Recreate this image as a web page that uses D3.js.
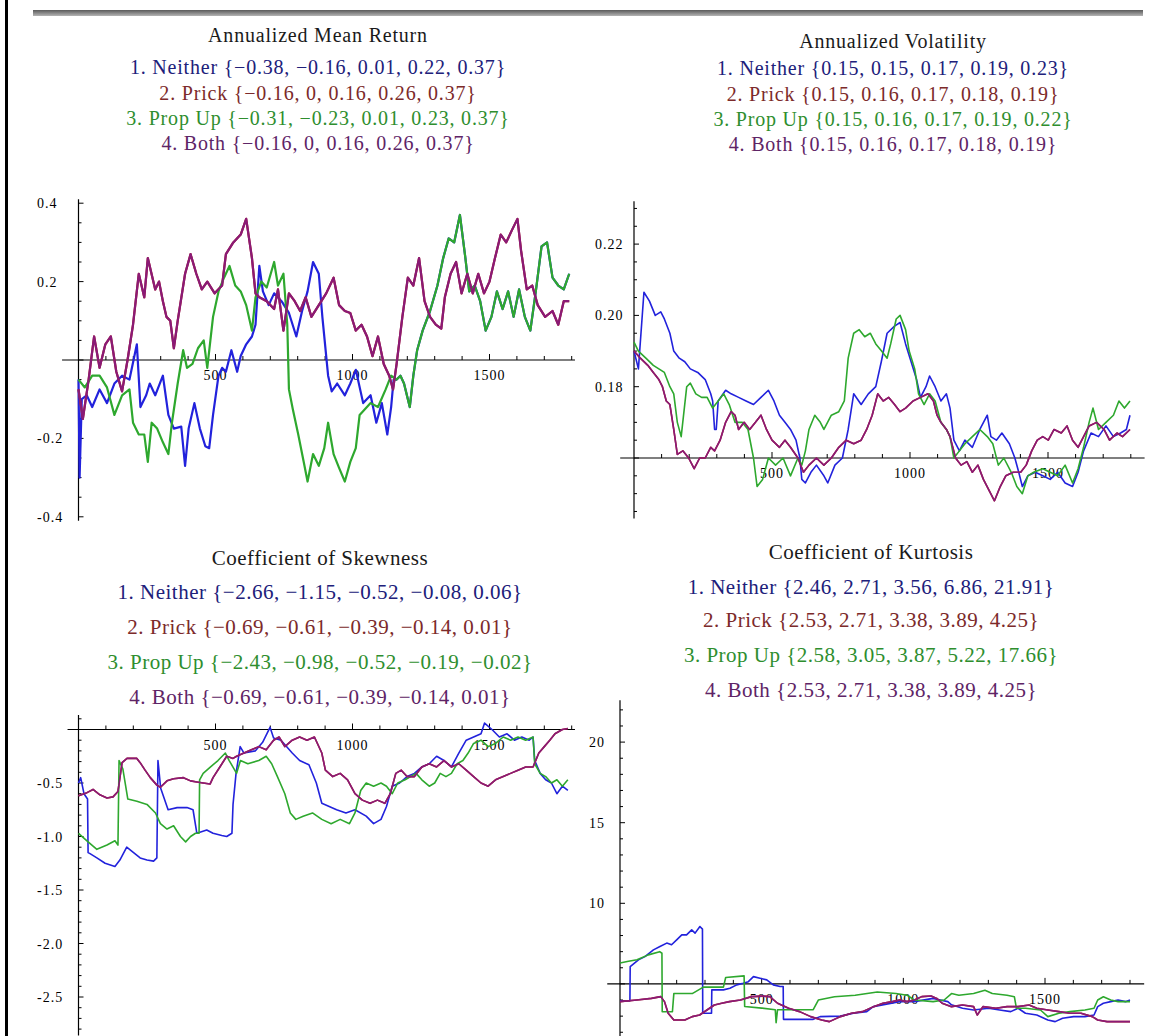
<!DOCTYPE html>
<html>
<head>
<meta charset="utf-8">
<script src="https://cdn.jsdelivr.net/npm/d3@7"></script>
<style>
  body { margin: 0; background: #fff; }
  svg { display: block; }
  text { font-family: "Liberation Serif", "Times New Roman", serif; }
</style>
</head>
<body>
<div id="chart"></div>
<script>
// Strategies and their colours
var strategies = ["Neither", "Prick", "Prop Up", "Both"];
var lineColors = ["#2222dc", "#b02020", "#2ea82e", "#8a1a76"];
var textColors = ["#20207a", "#7c2a2a", "#2e8e2e", "#5e2466"];

// {min, 25%, median, 75%, max} per strategy, as printed above each plot
var meanStats = [[-0.38, -0.16, 0.01, 0.22, 0.37], [-0.16, 0, 0.16, 0.26, 0.37], [-0.31, -0.23, 0.01, 0.23, 0.37], [-0.16, 0, 0.16, 0.26, 0.37]];
var volStats = [[0.15, 0.15, 0.17, 0.19, 0.23], [0.15, 0.16, 0.17, 0.18, 0.19], [0.15, 0.16, 0.17, 0.19, 0.22], [0.15, 0.16, 0.17, 0.18, 0.19]];
var skewStats = [[-2.66, -1.15, -0.52, -0.08, 0.06], [-0.69, -0.61, -0.39, -0.14, 0.01], [-2.43, -0.98, -0.52, -0.19, -0.02], [-0.69, -0.61, -0.39, -0.14, 0.01]];
var kurtStats = [[2.46, 2.71, 3.56, 6.86, 21.91], [2.53, 2.71, 3.38, 3.89, 4.25], [2.58, 3.05, 3.87, 5.22, 17.66], [2.53, 2.71, 3.38, 3.89, 4.25]];

// Tick labels
var xTickLabels = [500, 1000, 1500];
var meanTicks = ["0.4", "0.2", "-0.2", "-0.4"];
var volTicks = ["0.18", "0.20", "0.22"];
var skewTicks = ["-0.5", "-1.0", "-1.5", "-2.0", "-2.5"];
var kurtTicks = ["10", "15", "20"];

// Annualized mean return, [day, value]
var meanPropUp = [[0,-0.05],[23,-0.07],[50,-0.04],[77,-0.04],[104,-0.07],[131,-0.14],[159,-0.09],[186,-0.075],[199,-0.16],[220,-0.19],[240,-0.19],[253,-0.26],[267,-0.16],[287,-0.175],[308,-0.21],[328,-0.24],[341,-0.16],[362,-0.06],[382,0.025],[396,-0.02],[416,-0.01],[436,0.03],[457,0.05],[470,-0.02],[491,0.11],[511,0.175],[531,0.21],[551,0.24],[572,0.19],[592,0.175],[612,0.14],[633,0.075],[646,0.16],[667,0.2],[687,0.185],[714,0.25],[728,0.19],[748,0.22],[762,0.09],[768,-0.075],[782,-0.125],[802,-0.19],[822,-0.26],[836,-0.31],[856,-0.24],[877,-0.27],[897,-0.225],[911,-0.16],[931,-0.24],[951,-0.275],[972,-0.31],[992,-0.26],[1012,-0.225],[1026,-0.14],[1046,-0.125],[1066,-0.11],[1093,-0.12],[1121,-0.075],[1141,-0.04],[1161,-0.05],[1175,-0.04],[1188,-0.06],[1209,-0.12],[1222,-0.04],[1236,0.025],[1256,0.075],[1283,0.125],[1310,0.19],[1331,0.26],[1351,0.31],[1371,0.3],[1392,0.37],[1412,0.26],[1426,0.175],[1446,0.19],[1466,0.15],[1486,0.075],[1507,0.11],[1527,0.175],[1548,0.13],[1568,0.175],[1588,0.11],[1608,0.18],[1629,0.11],[1649,0.075],[1669,0.175],[1690,0.29],[1710,0.3],[1730,0.21],[1751,0.19],[1771,0.18],[1791,0.22]];
var meanNeitherHead = [[0,-0.05],[4,-0.3],[12,-0.1],[30,-0.09],[50,-0.12],[77,-0.075],[104,-0.11],[131,-0.06],[159,-0.04],[186,-0.05],[213,0.04],[226,-0.12],[247,-0.09],[260,-0.06],[280,-0.09],[308,-0.04],[328,-0.14],[348,-0.175],[375,-0.17],[389,-0.27],[402,-0.175],[423,-0.11],[443,-0.175],[463,-0.22],[477,-0.225],[491,-0.14],[511,-0.04],[524,-0.02],[538,-0.03],[558,0.025],[579,-0.03],[592,0.01],[612,0.04],[633,0.06],[646,0.09],[660,0.24],[673,0.175],[694,0.14],[714,0.17],[741,0.15],[768,0.12],[795,0.06],[816,0.125],[836,0.175],[856,0.25],[877,0.22],[890,0.11],[911,-0.04],[924,-0.08],[944,-0.06],[972,-0.09],[992,-0.06],[1012,-0.025],[1039,-0.11],[1066,-0.09],[1087,-0.16],[1107,-0.11],[1127,-0.19],[1141,-0.12],[1150,-0.05]];
// after ~1150 days Neither runs together with Prop Up
var meanNeither = meanNeitherHead.concat(meanPropUp.filter(function(d) { return d[0] > 1150; }));
var meanBoth = [[0,-0.075],[16,-0.15],[37,-0.05],[57,0.06],[77,-0.02],[98,0.04],[118,0.06],[138,-0.03],[159,-0.08],[179,0],[199,0.09],[220,0.22],[240,0.16],[253,0.26],[280,0.18],[294,0.2],[308,0.15],[321,0.11],[335,0.1],[348,0.03],[362,0.1],[389,0.22],[409,0.27],[430,0.22],[450,0.18],[470,0.2],[497,0.17],[524,0.19],[538,0.27],[565,0.3],[592,0.32],[612,0.36],[633,0.26],[646,0.17],[660,0.16],[687,0.15],[714,0.13],[728,0.18],[748,0.075],[768,0.17],[789,0.15],[809,0.125],[829,0.16],[850,0.11],[877,0.14],[904,0.17],[931,0.21],[951,0.14],[972,0.125],[992,0.12],[1012,0.075],[1033,0.09],[1053,0.06],[1073,0.01],[1093,0.06],[1114,-0.01],[1134,-0.04],[1148,-0.075],[1161,-0.01],[1182,0.11],[1202,0.21],[1222,0.19],[1243,0.26],[1263,0.15],[1283,0.11],[1304,0.09],[1324,0.08],[1337,0.16],[1358,0.22],[1378,0.25],[1398,0.17],[1419,0.22],[1439,0.17],[1459,0.22],[1480,0.17],[1500,0.2],[1520,0.26],[1541,0.32],[1561,0.3],[1581,0.33],[1602,0.36],[1615,0.28],[1636,0.18],[1656,0.19],[1676,0.14],[1703,0.11],[1730,0.125],[1751,0.09],[1771,0.15],[1791,0.15]];
var meanPrick = meanBoth;

// Annualized volatility
var volNeither = [[0,0.19],[16,0.185],[36,0.2065],[56,0.204],[77,0.2],[97,0.201],[110,0.199],[130,0.195],[144,0.19],[164,0.188],[184,0.187],[204,0.185],[231,0.184],[258,0.182],[278,0.178],[285,0.176],[292,0.168],[298,0.168],[305,0.176],[332,0.179],[352,0.178],[379,0.177],[406,0.176],[433,0.175],[460,0.177],[487,0.179],[507,0.176],[527,0.172],[547,0.17],[567,0.168],[587,0.165],[601,0.16],[608,0.154],[621,0.153],[641,0.156],[661,0.158],[688,0.155],[702,0.153],[728,0.158],[755,0.16],[776,0.168],[796,0.178],[823,0.175],[849,0.178],[876,0.18],[896,0.187],[917,0.195],[944,0.197],[964,0.198],[984,0.192],[1004,0.187],[1024,0.182],[1038,0.177],[1058,0.18],[1071,0.183],[1091,0.18],[1112,0.176],[1132,0.178],[1145,0.174],[1159,0.165],[1179,0.162],[1199,0.165],[1226,0.163],[1253,0.168],[1280,0.172],[1293,0.166],[1313,0.165],[1333,0.167],[1360,0.164],[1380,0.16],[1394,0.156],[1407,0.152],[1427,0.155],[1454,0.156],[1481,0.155],[1508,0.154],[1535,0.156],[1562,0.153],[1589,0.152],[1609,0.156],[1629,0.162],[1656,0.167],[1683,0.166],[1710,0.169],[1737,0.166],[1763,0.167],[1784,0.168],[1797,0.172]];
var volPropUp = [[0,0.1925],[16,0.19],[43,0.188],[70,0.186],[90,0.185],[110,0.184],[130,0.18],[144,0.178],[157,0.17],[171,0.166],[191,0.18],[204,0.181],[224,0.178],[245,0.177],[265,0.177],[285,0.174],[305,0.176],[325,0.178],[345,0.175],[366,0.17],[392,0.17],[413,0.168],[433,0.16],[446,0.152],[466,0.154],[487,0.16],[513,0.158],[540,0.16],[567,0.155],[594,0.16],[608,0.158],[621,0.162],[634,0.168],[655,0.172],[675,0.17],[688,0.168],[715,0.172],[742,0.173],[762,0.176],[776,0.188],[796,0.195],[816,0.196],[836,0.194],[856,0.195],[876,0.192],[897,0.19],[917,0.188],[930,0.192],[950,0.199],[964,0.2],[984,0.196],[997,0.19],[1017,0.185],[1031,0.178],[1051,0.175],[1071,0.178],[1091,0.176],[1112,0.17],[1132,0.168],[1145,0.166],[1159,0.16],[1179,0.162],[1199,0.164],[1226,0.166],[1253,0.168],[1280,0.166],[1300,0.164],[1320,0.158],[1340,0.16],[1367,0.156],[1387,0.152],[1407,0.15],[1427,0.155],[1448,0.156],[1481,0.157],[1508,0.156],[1535,0.155],[1562,0.158],[1589,0.153],[1609,0.157],[1629,0.163],[1649,0.17],[1663,0.174],[1683,0.168],[1710,0.17],[1737,0.172],[1757,0.176],[1777,0.174],[1797,0.176]];
var volBoth = [[0,0.19],[23,0.188],[50,0.186],[70,0.184],[90,0.182],[103,0.18],[117,0.176],[130,0.175],[144,0.168],[157,0.161],[177,0.162],[198,0.16],[218,0.157],[238,0.16],[258,0.16],[278,0.163],[292,0.162],[312,0.165],[332,0.17],[352,0.173],[366,0.172],[379,0.168],[399,0.17],[419,0.168],[440,0.17],[460,0.172],[480,0.168],[500,0.165],[527,0.163],[547,0.165],[567,0.163],[594,0.16],[614,0.156],[634,0.158],[661,0.16],[688,0.158],[715,0.16],[742,0.163],[769,0.165],[796,0.164],[823,0.165],[843,0.168],[863,0.172],[883,0.178],[903,0.176],[923,0.177],[944,0.175],[964,0.173],[984,0.174],[1011,0.176],[1038,0.177],[1065,0.178],[1085,0.176],[1098,0.172],[1112,0.17],[1132,0.168],[1145,0.166],[1165,0.16],[1185,0.158],[1206,0.159],[1226,0.156],[1246,0.158],[1266,0.154],[1286,0.151],[1306,0.148],[1327,0.152],[1347,0.155],[1374,0.156],[1401,0.156],[1421,0.158],[1441,0.162],[1461,0.165],[1481,0.166],[1501,0.165],[1522,0.168],[1548,0.167],[1569,0.169],[1589,0.165],[1609,0.163],[1629,0.166],[1649,0.169],[1676,0.17],[1703,0.168],[1723,0.165],[1750,0.167],[1770,0.166],[1797,0.168]];
var volPrick = volBoth;

// Coefficient of skewness
var skewNeither = [[0,-0.5],[8,-0.45],[20,-0.6],[33,-0.65],[35,-1.15],[42,-1.16],[67,-1.2],[97,-1.25],[133,-1.28],[151,-1.22],[176,-1.1],[201,-1.15],[225,-1.2],[250,-1.22],[274,-1.23],[286,-1.2],[290,-0.29],[300,-0.55],[327,-0.75],[360,-0.73],[396,-0.73],[418,-0.75],[432,-0.97],[468,-0.94],[491,-0.97],[523,-0.99],[541,-1],[560,-0.97],[564,-0.7],[575,-0.41],[590,-0.16],[604,-0.22],[645,-0.2],[672,-0.12],[699,0.02],[712,-0.08],[739,-0.1],[780,-0.22],[807,-0.29],[841,-0.33],[868,-0.5],[888,-0.69],[915,-0.72],[942,-0.75],[976,-0.78],[1009,-0.75],[1050,-0.81],[1077,-0.88],[1104,-0.84],[1124,-0.72],[1145,-0.53],[1172,-0.5],[1199,-0.44],[1226,-0.41],[1253,-0.35],[1280,-0.32],[1307,-0.25],[1334,-0.29],[1361,-0.35],[1388,-0.22],[1415,-0.1],[1442,-0.07],[1469,-0.04],[1482,0.06],[1509,0],[1536,-0.07],[1564,-0.04],[1591,-0.1],[1618,-0.07],[1645,-0.1],[1659,-0.07],[1665,-0.29],[1685,-0.41],[1705,-0.47],[1726,-0.5],[1746,-0.6],[1766,-0.53],[1786,-0.57]];
var skewPropUp = [[0,-0.97],[35,-1.05],[67,-1.12],[104,-1.08],[133,-1.04],[144,-1.08],[148,-0.29],[162,-0.37],[180,-0.65],[213,-0.67],[250,-0.7],[281,-0.78],[299,-0.88],[323,-0.93],[347,-0.9],[372,-1],[391,-1.05],[409,-1],[427,-0.97],[440,-0.97],[442,-0.47],[455,-0.41],[482,-0.35],[509,-0.29],[536,-0.22],[550,-0.29],[577,-0.41],[591,-0.29],[618,-0.32],[658,-0.29],[685,-0.25],[705,-0.32],[726,-0.44],[753,-0.6],[773,-0.78],[793,-0.84],[820,-0.81],[854,-0.78],[888,-0.84],[922,-0.88],[955,-0.84],[989,-0.88],[1009,-0.78],[1030,-0.57],[1050,-0.5],[1077,-0.53],[1104,-0.5],[1124,-0.53],[1145,-0.6],[1165,-0.5],[1192,-0.47],[1212,-0.44],[1232,-0.41],[1253,-0.47],[1280,-0.53],[1300,-0.5],[1320,-0.41],[1341,-0.44],[1361,-0.41],[1382,-0.32],[1403,-0.29],[1422,-0.22],[1442,-0.13],[1469,-0.1],[1495,-0.16],[1522,-0.13],[1550,-0.07],[1577,-0.1],[1604,-0.07],[1632,-0.1],[1659,-0.07],[1665,-0.32],[1685,-0.41],[1705,-0.44],[1726,-0.5],[1746,-0.47],[1766,-0.53],[1786,-0.47]];
var skewBoth = [[0,-0.62],[31,-0.59],[53,-0.56],[78,-0.61],[104,-0.64],[126,-0.63],[144,-0.58],[159,-0.31],[177,-0.27],[213,-0.27],[225,-0.31],[243,-0.38],[262,-0.45],[286,-0.52],[299,-0.54],[323,-0.48],[347,-0.46],[383,-0.45],[409,-0.48],[432,-0.49],[455,-0.5],[480,-0.51],[491,-0.45],[516,-0.35],[541,-0.25],[564,-0.27],[577,-0.25],[604,-0.22],[631,-0.19],[658,-0.16],[685,-0.19],[712,-0.1],[732,-0.07],[753,-0.16],[780,-0.1],[807,-0.07],[834,-0.1],[861,-0.07],[888,-0.22],[901,-0.38],[928,-0.44],[955,-0.41],[982,-0.47],[1009,-0.6],[1036,-0.66],[1064,-0.69],[1091,-0.66],[1118,-0.69],[1138,-0.6],[1158,-0.41],[1178,-0.38],[1199,-0.44],[1226,-0.44],[1253,-0.35],[1280,-0.32],[1307,-0.35],[1334,-0.29],[1361,-0.35],[1388,-0.32],[1415,-0.38],[1442,-0.44],[1469,-0.5],[1495,-0.53],[1522,-0.47],[1550,-0.44],[1577,-0.41],[1604,-0.38],[1632,-0.35],[1659,-0.35],[1680,-0.22],[1700,-0.16],[1720,-0.1],[1739,-0.04],[1766,0],[1786,0.01]];
var skewPrick = skewBoth;

// Coefficient of kurtosis
var kurtNeither = [[0,3.95],[35,3.95],[36,6.07],[65,6.49],[88,6.69],[118,7.11],[141,7.32],[165,7.53],[182,7.43],[200,7.73],[218,8.04],[235,8.04],[253,8.35],[265,8.15],[282,8.56],[291,8.4],[292,3.18],[323,3.18],[324,4.63],[365,4.63],[388,4.73],[412,4.94],[435,5.04],[453,5.14],[471,5.45],[494,5.35],[518,5.25],[541,4.94],[565,4.84],[576,4.84],[577,2.8],[682,2.8],[706,2.97],[777,3],[824,3.18],[871,3.28],[894,3.59],[987,3.9],[1039,3.9],[1105,4.1],[1157,3.9],[1170,3.7],[1209,3.49],[1248,3.38],[1301,3.49],[1340,3.38],[1379,3.28],[1405,3.49],[1431,3.18],[1471,3.07],[1510,2.76],[1536,2.66],[1562,2.87],[1601,2.97],[1641,2.97],[1673,3.07],[1686,3.59],[1706,3.8],[1732,3.9],[1758,4],[1784,3.9],[1800,4]];
var kurtPropUp = [[0,6.3],[30,6.4],[60,6.5],[100,6.8],[140,7],[148,6.9],[149,3.27],[185,3.27],[190,4.4],[255,4.4],[294,4.8],[365,4.8],[373,5.4],[438,5.5],[440,3.6],[500,3.5],[548,3.4],[551,2.6],[556,3.4],[682,3.4],[700,4],[757,4.2],[830,4.3],[908,4.5],[974,4.4],[1013,4.3],[1039,4],[1105,3.9],[1144,4],[1170,4.4],[1196,4.3],[1248,4.4],[1288,4.6],[1314,4.4],[1366,4.3],[1392,4.2],[1399,3.5],[1431,3.49],[1484,3.38],[1510,2.97],[1549,3.18],[1588,3.28],[1641,3.38],[1673,3.49],[1686,4],[1706,4.2],[1732,4],[1758,3.9],[1800,3.9]];
var kurtBoth = [[0,3.9],[59,4],[111,4.1],[144,4.21],[157,3.9],[170,3.18],[190,2.76],[229,2.76],[255,2.97],[281,3.07],[307,3.38],[333,3.69],[359,3.8],[386,3.9],[425,4],[464,4.21],[503,4.24],[529,4.21],[556,3.8],[595,3.49],[634,3.28],[673,2.97],[712,2.76],[739,2.66],[778,2.97],[817,3.18],[856,3.28],[895,3.59],[928,3.8],[961,3.9],[987,4],[1013,3.9],[1039,4],[1065,4.21],[1098,4.25],[1118,4.1],[1137,3.8],[1170,3.59],[1209,3.69],[1248,3.59],[1261,3.07],[1281,3.59],[1327,3.49],[1366,3.59],[1405,3.59],[1444,3.69],[1471,3.49],[1510,3.38],[1549,3.28],[1588,3.18],[1627,3.18],[1667,2.97],[1686,2.76],[1719,2.66],[1758,2.66],[1800,2.66]];
var kurtPrick = kurtBoth;


var W = 1159, H = 1036;

var svg = d3.select("#chart")
    .append("svg")
    .attr("width", W)
    .attr("height", H);

// frame bits of the screenshot
var grad = svg.append("defs").append("linearGradient")
    .attr("id", "bar").attr("x1", 0).attr("y1", 0).attr("x2", 0).attr("y2", 1);
grad.append("stop").attr("offset", "0%").attr("stop-color", "#5a5a5a");
grad.append("stop").attr("offset", "100%").attr("stop-color", "#b4b4b4");
svg.append("rect").attr("x", 33).attr("y", 10).attr("width", 1110).attr("height", 6).attr("fill", "url(#bar)");
svg.append("rect").attr("x", 5).attr("y", 0).attr("width", 3).attr("height", H).attr("fill", "#000");


function fmt(v) {
    return String(v).replace("-", "\u2212");
}

var drawPanel = function(p) {
    var g = svg.append("g");
    var x = d3.scaleLinear().domain([0, 1800]).range(p.xRange);
    var y = d3.scaleLinear().domain(p.yDomain).range(p.yRange);
    var x0 = x(0), yAxisAt = y(p.xAxisAt);

    // title and the legend lines
    g.append("text")
        .attr("x", p.cx).attr("y", p.titleY)
        .attr("text-anchor", "middle")
        .style("font-size", p.fontSize + "px")
        .style("letter-spacing", p.spacing + "px")
        .attr("fill", "#1a1a1a")
        .text(p.title);
    strategies.forEach(function(name, i) {
        g.append("text")
            .attr("x", p.cx).attr("y", p.lineY[i])
            .attr("text-anchor", "middle")
            .style("font-size", p.fontSize + "px")
            .style("letter-spacing", p.spacing + "px")
            .attr("fill", textColors[i])
            .text((i + 1) + ". " + name + " {" + p.stats[i].map(fmt).join(", ") + "}");
    });

    // axes
    g.append("line")
        .attr("x1", x(p.xAxisExtent[0])).attr("x2", x(p.xAxisExtent[1]))
        .attr("y1", yAxisAt).attr("y2", yAxisAt)
        .attr("stroke", "#000").attr("stroke-width", 1.2);
    g.append("line")
        .attr("x1", x0).attr("x2", x0)
        .attr("y1", y(p.yAxisExtent[0])).attr("y2", y(p.yAxisExtent[1]))
        .attr("stroke", "#000").attr("stroke-width", 1.2);

    d3.range(100, 1801, 100).forEach(function(t) {
        var major = t % 500 == 0;
        g.append("line")
            .attr("x1", x(t)).attr("x2", x(t))
            .attr("y1", yAxisAt).attr("y2", yAxisAt - (major ? 6 : 4))
            .attr("stroke", "#000").attr("stroke-width", 1);
    });
    xTickLabels.forEach(function(t) {
        g.append("text")
            .attr("x", x(t)).attr("y", yAxisAt + 20)
            .attr("text-anchor", "middle")
            .style("font-size", "14px")
            .style("letter-spacing", "1px")
            .text(t);
    });

    var minor = d3.range(p.yMinor[0], p.yMinor[1] + p.yMinor[2] / 2, p.yMinor[2]);
    minor.forEach(function(t) {
        var major = Math.abs(t / p.yMajor - Math.round(t / p.yMajor)) < 1e-6;
        g.append("line")
            .attr("x1", x0).attr("x2", x0 + (major ? 5 : 3))
            .attr("y1", y(t)).attr("y2", y(t))
            .attr("stroke", "#000").attr("stroke-width", 1);
    });
    p.yTicks.forEach(function(t) {
        g.append("text")
            .attr("x", p.yLabelX).attr("y", y(+t) + 5)
            .style("font-size", "14px")
            .style("letter-spacing", "1px")
            .text(t);
    });

    // series: Neither, Prick, Prop Up, Both (Both drawn last, on top)
    var line = d3.line()
        .x(function(d) { return x(d[0]); })
        .y(function(d) { return y(d[1]); });
    p.series.forEach(function(s, i) {
        g.append("path")
            .datum(s)
            .attr("d", line)
            .attr("fill", "none")
            .attr("stroke", lineColors[i])
            .attr("stroke-width", p.lineWidth)
            .attr("stroke-linejoin", "round");
    });
};


drawPanel({
    title: "Annualized Mean Return", stats: meanStats,
    series: [meanNeither, meanPrick, meanPropUp, meanBoth],
    cx: 318, titleY: 42, lineY: [74, 100, 125, 150], fontSize: 20, spacing: 0.8,
    xRange: [78.5, 571.7], yDomain: [-0.4, 0.4], yRange: [516.8, 203.2],
    xAxisAt: 0, xAxisExtent: [-60, 1812], yAxisExtent: [-0.41, 0.41],
    yMinor: [-0.4, 0.4, 0.05], yMajor: 0.2, yTicks: meanTicks, yLabelX: 37,
    lineWidth: 2.2
});

drawPanel({
    title: "Annualized Volatility", stats: volStats,
    series: [volNeither, volPrick, volPropUp, volBoth],
    cx: 893, titleY: 48, lineY: [75, 101, 126, 151], fontSize: 20, spacing: 0.8,
    xRange: [634, 1130.8], yDomain: [0.14, 0.24], yRange: [529.3, 172.8],
    xAxisAt: 0.16, xAxisExtent: [-50, 1850], yAxisExtent: [0.143, 0.232],
    yMinor: [0.145, 0.23, 0.005], yMajor: 0.02, yTicks: volTicks, yLabelX: 595,
    lineWidth: 1.6
});

drawPanel({
    title: "Coefficient of Skewness", stats: skewStats,
    series: [skewNeither, skewPrick, skewPropUp, skewBoth],
    cx: 320, titleY: 565, lineY: [599, 634, 669, 704], fontSize: 21, spacing: 0.5,
    xRange: [78.5, 571.7], yDomain: [-3, 0.5], yRange: [1050.5, 676],
    xAxisAt: 0, xAxisExtent: [-40, 1812], yAxisExtent: [-2.86, 0.135],
    yMinor: [-2.8, 0.1, 0.1], yMajor: 0.5, yTicks: skewTicks, yLabelX: 37,
    lineWidth: 1.6
});

drawPanel({
    title: "Coefficient of Kurtosis", stats: kurtStats,
    series: [kurtNeither, kurtPrick, kurtPropUp, kurtBoth],
    cx: 871, titleY: 559, lineY: [594, 627, 662, 697], fontSize: 21, spacing: 0.5,
    xRange: [620, 1130], yDomain: [0, 25], yRange: [1064.5, 661.5],
    xAxisAt: 5, xAxisExtent: [-45, 1850], yAxisExtent: [1.7, 22.6],
    yMinor: [2, 22, 1], yMajor: 5, yTicks: kurtTicks, yLabelX: 589,
    lineWidth: 1.6
});
</script>
</body>
</html>
